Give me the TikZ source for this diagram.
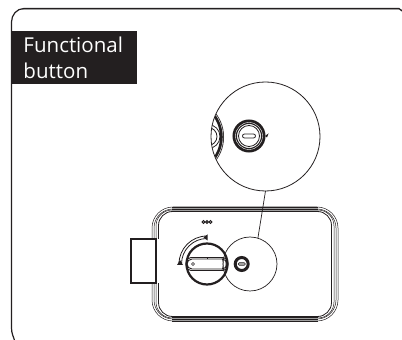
\documentclass[tikz,border=0pt]{standalone}
\usepackage{fontspec}
\setmainfont{Open Sans}
\usepackage{tikz}
\usetikzlibrary{positioning,arrows.meta}
\definecolor{labelblack}{HTML}{231F20}
\tikzset{
  every node/.style={inner sep=0pt,outer sep=0pt},
  ink/.style={draw=labelblack,line width=.7pt},
  ring/.style={circle,draw=labelblack},
  shell/.style={draw=labelblack,line width=.5pt,rectangle,rounded corners=#1},
  grip/.style={draw=labelblack,line width=.9pt,rectangle,rounded corners=5pt}
}
\begin{document}
\begin{tikzpicture}[x=1pt,y=1pt]
    \useasboundingbox (0,0) rectangle (402,340);
    \draw[draw=gray!60,line width=1pt] (22,330.5) -- (402,330.5);
    \draw[labelblack,line width=1.2pt] (15,-2) to[out=105,in=-90] (11.5,12) -- (11.5,318) to[out=90,in=180] (24,331.5) -- (399,331.5) -- (402,329);
    \node[fill=labelblack,text=white,align=left,anchor=north west,minimum height=53pt,text width=126pt,font=\fontsize{20.5}{26}\selectfont](title) at (11,309){\hspace*{12.5pt}Functional\\\hspace*{12.5pt}button};

    \node[shell=21pt,minimum width=186pt,minimum height=114pt](body) at (245,76){};
    \node[shell=19pt,minimum width=182pt,minimum height=110pt](bodymid) at (body){};
    \node[shell=16pt,minimum width=178pt,minimum height=108pt](bodyin) at (body){};
    \node[shell=14pt,line width=.8pt,minimum width=173pt,minimum height=105pt](bodyinner) at (body){};
    \fill[gray!75] (172,128.5) rectangle (318,133);
    \fill[gray!75] (172,19) rectangle (318,23);
    \draw[labelblack,line width=.5pt] (172,133) -- (318,133) (172,130.5) -- (318,130.5) (172,128.5) -- (318,128.5);
    \draw[labelblack,line width=.5pt] (172,19) -- (318,19) (172,21) -- (318,21) (172,23) -- (318,23);
    \fill[white] (150,57) rectangle (161,101);
    \node[draw=labelblack,fill=white,line width=1.4pt,minimum width=25pt,minimum height=44pt](bolt) at (143.5,79){};

    \foreach \i/\dx in {1/-3.6,2/0,3/3.6}
        \node[ring,line width=1pt,minimum size=2.8pt](dot\i) at (207+\dx,118){};

    \node[ring,line width=2.2pt,minimum size=41pt](knob) at (207,76){};
    \node[grip,minimum width=42pt,minimum height=13pt](gripout) at (knob){};
    \node[grip,minimum width=40pt,minimum height=10pt](gripin) at (knob){};
    \node[ring,line width=.6pt,minimum size=3pt](gripdot) at (193,76){};
    \draw[ink,line width=.5pt] (gripout.north) -- (gripin.north);
    \draw[ink,line width=.5pt] (222,70) to[bend right=20] (222,82) (225,71) to[bend right=20] (225,81);
    \coordinate (turnstart) at (207,103);
    \coordinate (turnend) at (180,75);
    \draw[ink,line width=.8pt] (207,104) arc[start angle=90,end angle=180,radius=28];
    \draw[ink,line width=.8pt] (207,101.5) arc[start angle=90,end angle=180,radius=25.5];
    \fill[labelblack] (turnend) ++(-3,0) -- ++(6,0) -- ++(-3,5) -- cycle;
    \fill[labelblack] (207.5,99.5) -- ++(0,6) -- ++(-4,-3) -- cycle;

    \node[ring,line width=.7pt,minimum size=54pt](spot) at (250,76){};
    \node[ring,line width=3pt,minimum size=13pt](spotbtn) at (241.7,76){};
    \node[draw=labelblack,fill=gray!60,line width=.6pt,rounded corners=1pt,minimum width=7pt,minimum height=2.5pt](spotslot) at (spotbtn){};

    \node[ring,line width=.8pt,minimum size=109pt](detail) at (265.5,203.5){};
    \begin{scope}
        \clip (detail.center) circle (54.2pt);
        \draw[labelblack,line width=4pt] (185,203) circle (37pt);
        \draw[white,line width=.4pt] (185,203) circle (38pt);
        \draw[ink,line width=.8pt] (208,203.5) circle (12pt);
        \draw[ink,line width=.8pt] (208,203.5) circle (9pt);
    \end{scope}
    \node[ring,line width=4.5pt,minimum size=28.5pt](btn) at (249,204){};
    \node[circle,draw=white,line width=.4pt,minimum size=27pt](btnline) at (btn){};
    \node[ring,line width=.8pt,minimum size=21pt](btnin) at (btn){};
    \node[draw=labelblack,line width=.8pt,rounded corners=2pt,minimum width=13pt,minimum height=4pt](btnslot) at (btn){};
    \fill[labelblack] (265,204) -- ++(3.5,2.5) -- ++(-1.5,-4) -- cycle;

    \path[-,ink] (detail.south) edge node{}(spot.73);
\end{tikzpicture}
\end{document}
